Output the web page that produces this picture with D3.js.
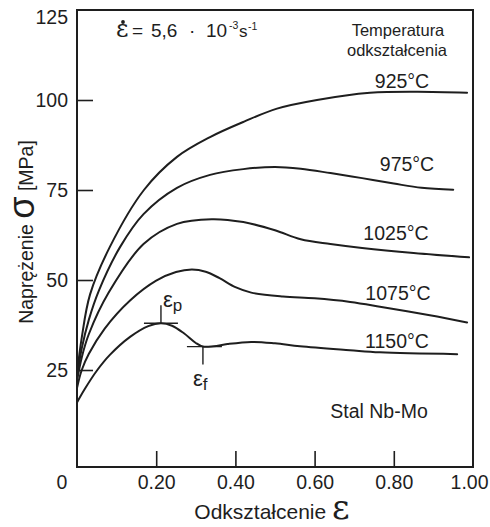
<!DOCTYPE html>
<html>
<head>
<meta charset="utf-8">
<script src="https://cdn.jsdelivr.net/npm/d3@7"></script>
<style>
  html, body { margin: 0; padding: 0; background: #fff; }
  svg { display: block; }
</style>
</head>
<body>
<svg id="chart" width="490" height="527"></svg>
<script>
// Flow curves of Nb-Mo steel: stress vs strain at several deformation temperatures
const temperatures = ["925°C", "975°C", "1025°C", "1075°C", "1150°C"];

const strain925 = [0, 0.012, 0.033, 0.083, 0.169, 0.2525, 0.336, 0.422, 0.505, 0.606, 0.74, 0.86, 0.985];
const stress925 = [24, 34, 46, 59.2, 75, 84.2, 89.7, 94, 97.6, 100, 102, 102.3, 102];

const strain975 = [0, 0.012, 0.03, 0.055, 0.109, 0.168, 0.2525, 0.336, 0.42, 0.50, 0.565, 0.64, 0.72, 0.80, 0.87, 0.95];
const stress975 = [23, 31, 39, 47, 59.2, 68.3, 75.6, 79.2, 80.8, 81.4, 80.9, 79.7, 78.3, 76.8, 75.6, 75.1];

const strain1025 = [0, 0.012, 0.03, 0.08, 0.168, 0.2525, 0.34, 0.42, 0.50, 0.565, 0.64, 0.72, 0.85, 0.99];
const stress1025 = [22, 28.5, 35, 46.5, 60, 65.6, 66.9, 66.1, 63.8, 61.3, 60, 58.9, 57.5, 56.3];

const strain1075 = [0, 0.012, 0.03, 0.07, 0.134, 0.20, 0.25, 0.29, 0.325, 0.36, 0.40, 0.44, 0.52, 0.60, 0.69, 0.765, 0.891, 0.985];
const stress1075 = [20, 25, 29.5, 36.5, 44.3, 49.8, 52.2, 52.9, 52.3, 50.5, 48, 46.5, 45.4, 44.9, 43.9, 42.6, 40.2, 38.2];

const strain1150 = [0, 0.02, 0.05, 0.083, 0.134, 0.18, 0.212, 0.24, 0.27, 0.30, 0.318, 0.345, 0.38, 0.44, 0.50, 0.563, 0.689, 0.765, 0.96];
const stress1150 = [16, 19.8, 24.8, 29.2, 34.2, 37.2, 38, 37.3, 35.2, 32.5, 31.5, 31.6, 32.2, 32.8, 32.4, 31.6, 30.5, 29.9, 29.4];

// peak strain and onset of steady flow on the 1150°C curve
const peakPoint = [0.212, 38];
const steadyPoint = [0.318, 31.5];

const xTicks = [0.2, 0.4, 0.6, 0.8, 1.0];
const xTickLabels = ["0.20", "0.40", "0.60", "0.80", "1.00"];
const yTicks = [25, 50, 75, 100, 125];
const yTickLabels = ["25", "50", "75", "100", "125"];

const seriesStrain = [strain925, strain975, strain1025, strain1075, strain1150];
const seriesStress = [stress925, stress975, stress1025, stress1075, stress1150];

// ---- drawing ----
const ink = "#1e1e1e";
const sans = "'Liberation Sans', Arial, Helvetica, sans-serif";
const serif = "'DejaVu Serif', 'Liberation Serif', serif";
const svg = d3.select("#chart");

const x = d3.scaleLinear().domain([0, 1]).range([77, 473]);
const y = d3.scaleLinear().domain([0, 125]).range([460, 10]);
const frameBottom = 467;

// plot frame
svg.append("rect")
  .attr("x", x(0)).attr("y", y(125))
  .attr("width", x(1) - x(0)).attr("height", frameBottom - y(125))
  .attr("fill", "none").attr("stroke", ink).attr("stroke-width", 2);

// y axis: inward ticks, labels on the left
const yAxis = svg.append("g")
  .attr("transform", `translate(${x(0)},0)`)
  .call(d3.axisLeft(y).tickValues(yTicks.slice(0, 4))
    .tickFormat((d, i) => yTickLabels[i])
    .tickSizeInner(-16).tickSizeOuter(0).tickPadding(9));
yAxis.select(".domain").remove();
yAxis.selectAll(".tick line").attr("stroke", ink).attr("stroke-width", 1.6);
yAxis.selectAll(".tick text").attr("fill", ink).attr("font-family", sans).attr("font-size", 19.5);

// top label sits just under the frame corner
svg.append("text")
  .attr("x", x(0) - 9).attr("y", y(125) + 14)
  .attr("text-anchor", "end").attr("font-family", sans).attr("font-size", 19.5).attr("fill", ink)
  .text(yTickLabels[4]);

// x axis: inward ticks, labels below
const xAxis = svg.append("g")
  .attr("transform", `translate(0,${frameBottom})`)
  .call(d3.axisBottom(x).tickValues(xTicks)
    .tickFormat((d, i) => xTickLabels[i])
    .tickSizeInner(-16).tickSizeOuter(0).tickPadding(8));
xAxis.select(".domain").remove();
xAxis.selectAll(".tick line").attr("stroke", ink).attr("stroke-width", 1.6);
xAxis.selectAll(".tick text").attr("fill", ink).attr("font-family", sans).attr("font-size", 19.5);
xAxis.selectAll(".tick").filter(d => d === 1).select("line").remove();
xAxis.selectAll(".tick").filter(d => d === 1).select("text").attr("x", -4);

// shared origin label
svg.append("text")
  .attr("x", 62).attr("y", 489)
  .attr("text-anchor", "middle").attr("font-family", sans).attr("font-size", 19.5).attr("fill", ink)
  .text("0");

// flow curves
const line = d3.line()
  .x(d => x(d[0]))
  .y(d => y(d[1]))
  .curve(d3.curveCatmullRom.alpha(0.5));

svg.append("g").selectAll("path")
  .data(seriesStrain.map((s, i) => d3.zip(s, seriesStress[i])))
  .join("path")
  .attr("d", line)
  .attr("fill", "none").attr("stroke", ink).attr("stroke-width", 2)
  .attr("stroke-linejoin", "round").attr("stroke-linecap", "round");

// temperature labels
const labelAnchors = [[402, 88], [407, 171], [396, 240], [398, 300], [397, 348]];
svg.append("g").selectAll("text")
  .data(temperatures)
  .join("text")
  .attr("x", (d, i) => labelAnchors[i][0])
  .attr("y", (d, i) => labelAnchors[i][1])
  .attr("text-anchor", "middle").attr("font-family", sans).attr("font-size", 19.5).attr("fill", ink)
  .text(d => d);

// legend heading
svg.append("text").attr("x", 398).attr("y", 36)
  .attr("text-anchor", "middle").attr("font-family", sans).attr("font-size", 16.5).attr("fill", ink)
  .text("Temperatura");
svg.append("text").attr("x", 397).attr("y", 56)
  .attr("text-anchor", "middle").attr("font-family", sans).attr("font-size", 16.5).attr("fill", ink)
  .text("odkształcenia");

svg.append("text").attr("x", 379).attr("y", 418)
  .attr("text-anchor", "middle").attr("font-family", sans).attr("font-size", 19.5).attr("fill", ink)
  .text("Stal Nb-Mo");

// strain-rate note
svg.append("text").attr("x", 116).attr("y", 37)
  .attr("font-family", serif).attr("font-size", 24).attr("fill", ink).text("ε");
svg.append("circle").attr("cx", 123).attr("cy", 22).attr("r", 1.9).attr("fill", ink);
const note = svg.append("text").attr("y", 37)
  .attr("font-family", sans).attr("font-size", 19).attr("fill", ink);
note.append("tspan").attr("x", 132).text("=");
note.append("tspan").attr("x", 151).text("5,6");
note.append("tspan").attr("x", 189).text("·");
note.append("tspan").attr("x", 206).text("10");
note.append("tspan").attr("x", 229).attr("y", 29).attr("font-size", 10.5).text("-3");
note.append("tspan").attr("x", 239).attr("y", 37).attr("font-size", 17).text("s");
note.append("tspan").attr("x", 248).attr("y", 30).attr("font-size", 10.5).text("-1");

// ε_p and ε_f markers on the 1150°C curve
const mk = svg.append("g").attr("stroke", ink).attr("stroke-width", 1.4);
const px = x(peakPoint[0]), py = y(peakPoint[1]);
mk.append("line").attr("x1", px - 17).attr("x2", px + 17).attr("y1", py).attr("y2", py);
mk.append("line").attr("x1", px).attr("x2", px).attr("y1", py - 18).attr("y2", py);
const fx = x(steadyPoint[0]), fy = y(steadyPoint[1]);
mk.append("line").attr("x1", fx - 16).attr("x2", fx + 19).attr("y1", fy).attr("y2", fy);
mk.append("line").attr("x1", fx).attr("x2", fx).attr("y1", fy).attr("y2", fy + 18);

const ep = svg.append("text").attr("x", px + 2).attr("y", py - 16)
  .attr("font-family", sans).attr("font-size", 22).attr("fill", ink);
ep.append("tspan").text("ε");
ep.append("tspan").attr("font-size", 17).attr("dy", 4).text("p");
const ef = svg.append("text").attr("x", fx - 10).attr("y", fy + 39)
  .attr("font-family", sans).attr("font-size", 22).attr("fill", ink);
ef.append("tspan").text("ε");
ef.append("tspan").attr("font-size", 17).attr("dy", 4).text("f");

// axis titles
const yTitle = svg.append("text")
  .attr("transform", "translate(33,232) rotate(-90)")
  .attr("text-anchor", "middle").attr("font-family", sans).attr("font-size", 19.5).attr("fill", ink);
yTitle.append("tspan").text("Naprężenie ");
yTitle.append("tspan").attr("font-size", 36).attr("dy", 1).text("σ");
yTitle.append("tspan").attr("dy", -1).text(" [MPa]");

const xTitle = svg.append("text")
  .attr("x", 272).attr("y", 519)
  .attr("text-anchor", "middle").attr("font-family", sans).attr("font-size", 21).attr("fill", ink);
xTitle.append("tspan").text("Odkształcenie ");
xTitle.append("tspan").attr("font-family", serif).attr("font-size", 34).text("ε");
</script>
</body>
</html>
